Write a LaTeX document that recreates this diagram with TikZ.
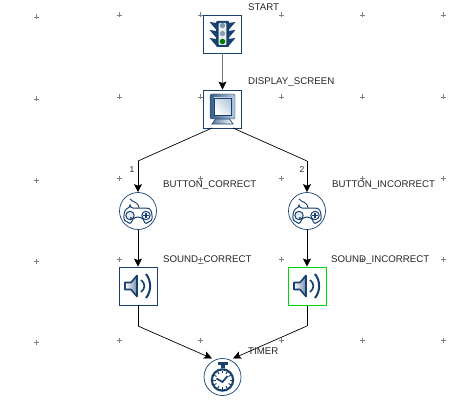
\documentclass[tikz,border=0pt]{standalone}
\usepackage{fontspec}
\setmainfont{Liberation Sans}
\usetikzlibrary{arrows.meta, positioning}
\definecolor{navy}{HTML}{17406F}
\definecolor{pale}{HTML}{B9CBE0}
\tikzset{
    lightpic/.pic={
        \fill [navy, rounded corners=1pt] (-6.5,13) rectangle (6.5,-13);
        \fill [white!92!navy, rounded corners=1pt] (-3.8,11) rectangle (3.8,-11);
        \foreach \s in {-1,1}
            \foreach \h in {8.5,0.5,-7.5}
                \fill [navy] (\s*6,\h+2.5) -- (\s*13,\h+3.5) -- (\s*6,\h-4.5) -- cycle;
        \fill [navy!55!white] (0,8.5) circle (2.7);
        \fill [navy!50!white] (0,0.5) circle (2.7);
        \fill [green!50!black] (0,-7.5) circle (2.8);
    },
    screenpic/.pic={
        \shade [left color=navy!85, right color=pale, draw=navy, rounded corners=2pt]
            (-12.5,15) rectangle (12.5,-10);
        \shade [left color=pale, right color=white, shading angle=-45, draw=navy, line width=.7pt]
            (-8.5,11) rectangle (8.5,-6.5);
        \shade [left color=navy!70, right color=white, draw=navy, line width=.7pt]
            (-7,-10) -- (7,-10) -- (10.5,-15) -- (-10.5,-15) -- cycle;
    },
    padpic/.pic={
        \draw [navy, line width=.9pt] (-8,12) .. controls (-5,8) and (0,10) .. (1,3);
        \draw [navy, line width=1pt, fill=white, rounded corners=3pt]
            (-8,3) -- (8,3) .. controls (14,2) and (15,-8) .. (11,-11)
            .. controls (7,-13) and (5,-8) .. (3,-6) -- (-3,-6)
            .. controls (-5,-8) and (-7,-13) .. (-11,-11)
            .. controls (-15,-8) and (-14,2) .. (-8,3) -- cycle;
        \draw [navy, line width=1pt, fill=white!60!pale] (-8,-4.5) circle (4.2);
        \draw [navy, line width=1pt] (8,-4.5) circle (4.2);
        \draw [navy, line width=1.4pt] (5.2,-4.5) -- (10.8,-4.5) (8,-1.8) -- (8,-7.2);
        \fill [navy] (-7,-7) circle (1.1);
    },
    hornpic/.pic={
        \shade [left color=white, right color=navy!60, draw=navy, line width=1.6pt, line join=round]
            (-13,3.5) -- (-7,3.5) -- (-1,10.5) -- (-1,-10.5) -- (-7,-3.5) -- (-13,-3.5) -- cycle;
        \draw [navy, line width=1.6pt] (3,6) .. controls (7.5,3) and (7.5,-3) .. (3,-6);
        \draw [navy, line width=2pt] (8,12) .. controls (13.5,5) and (13.5,-5) .. (8,-12);
    },
    watchpic/.pic={
        \fill [navy] (-5,15.5) rectangle (5,12);
        \fill [navy] (-2,12) rectangle (2,8);
        \fill [pale] (0,-3) circle (12);
        \draw [navy, line width=2pt, fill=white] (0,-3) circle (10.6);
        \foreach \a in {0,30,...,330}
            \draw [navy, line width=.9pt] (\a:7) ++(0,-3) -- ++(\a:2.5);
        \draw [navy, line width=1.7pt] (-6,-1.5) -- (0,-5) -- (5,1);
    }
}
\begin{document}
\begin{tikzpicture}[x=1pt,y=1pt]
    \tikzstyle{block} = [rectangle, draw=navy, fill=white, line width=.8pt,
        minimum size=38pt, inner sep=0pt]
    \tikzstyle{ball} = [circle, draw=navy, fill=white, line width=.7pt,
        minimum size=37pt, inner sep=0pt]
    \tikzstyle{line} = [draw, -, line width=.7pt]
    \tikzstyle{flow} = [line, -{Stealth[length=8pt,width=8pt,inset=1.5pt,black]}]
    \tikzstyle{lab} = [anchor=west, inner sep=0pt, text=black!85, font=\fontsize{9.7}{10}\selectfont]
    \tikzstyle{num} = [inner sep=0pt, text=black!85, font=\fontsize{8.5}{9}\selectfont]
    \tikzstyle{plusmark} = [draw, black!50, line width=.5pt]
    \useasboundingbox (0,0) rectangle (454,-406);
    %
    \foreach \x/\d in {36/2,119/0,200/0,281/0,362/0,443/0}
        \foreach \y in {15,97,178,259,340}
            \path [plusmark] (\x-2.5,-\y-\d) -- (\x+2.5,-\y-\d) (\x,-\y-\d-2.5) -- (\x,-\y-\d+2.5);
    %
    \node [block] (start) at (222.5,-34) {};
    \node [block, below of=start, node distance=75pt] (display) {};
    \coordinate [below of=display, node distance=52pt] (mid);
    \coordinate [left of=mid, node distance=84.5pt] (kneel);
    \coordinate [right of=mid, node distance=84.5pt] (kneer);
    \coordinate [below of=display, node distance=19pt] (dispbot);
    \coordinate [left of=dispbot, node distance=10.5pt] (outl);
    \coordinate [right of=dispbot, node distance=10.5pt] (outr);
    %
    \node [ball, below of=kneel, node distance=50pt] (btnc) {};
    \node [ball, below of=kneer, node distance=50pt] (btni) {};
    \node [block, below of=btnc, node distance=75pt] (sndc) {};
    \node [block, draw=green!85!black, line width=1pt, below of=btni, node distance=75pt] (sndi) {};
    \coordinate [below of=sndc, node distance=40pt] (botl);
    \coordinate [below of=sndi, node distance=40pt] (botr);
    %
    \node [ball, below of=mid, node distance=216pt] (timer) {};
    \coordinate [above of=timer, node distance=18.5pt] (timtop);
    \coordinate [left of=timtop, node distance=10.5pt] (tipl);
    \coordinate [right of=timtop, node distance=10.5pt] (tipr);
    \coordinate [left of=tipl, node distance=9pt] (tickl);
    \coordinate [right of=tipr, node distance=9pt] (tickr);
    %
    \pic at (start) {lightpic};
    \pic at (display) {screenpic};
    \pic at (btnc) {padpic};
    \pic at (btni) {padpic};
    \pic at (sndc) {hornpic};
    \pic at (sndi) {hornpic};
    \pic at (timer) {watchpic};
    %
    \path [flow, draw=black!55] (start) -- (display);
    \path [line] (outl) -- (kneel);
    \path [flow] (kneel) -- (btnc);
    \path [line] (outr) -- (kneer);
    \path [flow] (kneer) -- (btni);
    \path [flow] (btnc) -- (sndc);
    \path [flow] (btni) -- (sndi);
    \path [line] (sndc) -- (botl);
    \path [flow] (botl) -- (tipl);
    \path [line] (sndi) -- (botr);
    \path [flow] (botr) -- (tipr);
    \path [plusmark] (tickl) -- (tipl);
    \path [plusmark] (tipr) -- (tickr);
    %
    \node [lab] (lstart) at (248,-7.5) {START};
    \node [lab] (ldisplay) at (248,-82) {DISPLAY\_SCREEN};
    \node [lab] (lbtnc) at (163,-185) {BUTTON\_CORRECT};
    \node [lab] (lbtni) at (332,-185) {BUTTON\_INCORRECT};
    \node [lab] (lsndc) at (163,-260) {SOUND\_CORRECT};
    \node [lab] (lsndi) at (331,-260) {SOUND\_INCORRECT};
    \node [lab] (ltimer) at (248,-351) {TIMER};
    \node [num] (one) at (132,-170) {1};
    \node [num] (two) at (302,-170) {2};
\end{tikzpicture}
\end{document}
